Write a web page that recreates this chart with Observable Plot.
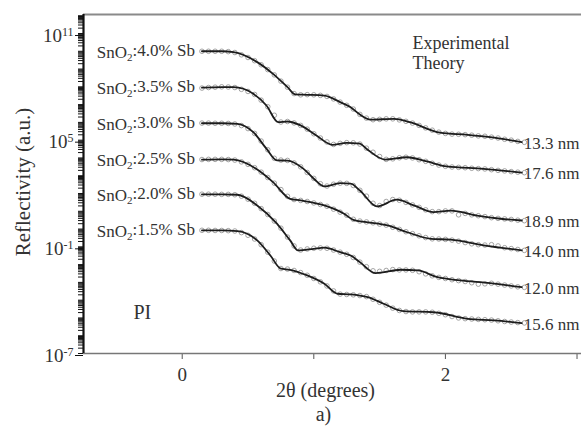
<!DOCTYPE html>
<html><head><meta charset="utf-8">
<script src="https://cdn.jsdelivr.net/npm/d3@7"></script>
<script src="https://cdn.jsdelivr.net/npm/@observablehq/plot@0.6"></script>
<style>html,body{margin:0;padding:0;background:#fff;}</style>
</head><body><div id="chart"></div>
<script>
// ---- labels ----
const samples = ["SnO2:4.0% Sb", "SnO2:3.5% Sb", "SnO2:3.0% Sb", "SnO2:2.5% Sb", "SnO2:2.0% Sb", "SnO2:1.5% Sb"];
const thickness = ["13.3 nm", "17.6 nm", "18.9 nm", "14.0 nm", "12.0 nm", "15.6 nm"];

// ---- axes ----
const xDomain = [-0.75, 3.034];
const yDomain = [1e-7, 1.17e12];
const xTicks = [0, 1, 2, 3];
const xTickLabels = ["0", "", "2", ""];
const yTicks = [1e-7, 1e-1, 1e5, 1e11];

// ---- experimental data: 2θ (deg) and log10(reflectivity) ----
const expX = [0.15,0.2,0.25,0.3,0.35,0.4,0.45,0.5,0.55,0.6,0.65,0.7,0.75,0.8,0.85,0.9,0.95,1.0,1.05,1.1,1.15,1.2,1.25,1.3,1.35,1.4,1.45,1.5,1.55,1.6,1.65,1.7,1.75,1.8,1.85,1.9,1.95,2.0,2.05,2.1,2.15,2.2,2.25,2.3,2.35,2.4,2.45,2.5,2.55,2.6];
const exp40 = [10.0,10.0,10.0,10.0,9.98,9.93,9.80,9.65,9.47,9.24,8.97,8.67,8.32,7.98,7.62,7.55,7.56,7.55,7.52,7.46,7.32,7.14,6.96,6.75,6.45,6.24,6.15,6.17,6.20,6.20,6.14,6.06,5.96,5.83,5.69,5.56,5.45,5.38,5.34,5.33,5.31,5.28,5.24,5.22,5.17,5.12,5.05,5.00,4.93,4.88];
const exp35 = [7.93,7.96,7.98,8.00,7.99,7.96,7.86,7.74,7.57,7.25,6.88,6.40,6.02,6.05,5.97,5.83,5.62,5.36,5.12,4.90,4.76,4.82,4.86,4.85,4.78,4.55,4.32,4.08,3.92,3.95,4.01,4.04,4.00,3.90,3.81,3.70,3.60,3.53,3.49,3.47,3.45,3.42,3.40,3.38,3.34,3.30,3.27,3.23,3.20,3.17];
const exp30 = [5.96,5.96,5.95,5.95,5.94,5.91,5.82,5.65,5.38,4.95,4.46,3.98,3.88,3.86,3.72,3.50,3.18,2.85,2.55,2.42,2.52,2.58,2.57,2.45,2.18,1.85,1.45,1.32,1.55,1.66,1.62,1.50,1.36,1.22,1.08,0.98,0.98,1.02,1.02,0.80,0.88,0.80,0.75,0.70,0.64,0.60,0.57,0.54,0.50,0.47];
const exp25 = [3.91,3.92,3.92,3.92,3.91,3.88,3.78,3.64,3.45,3.20,2.90,2.58,2.22,1.84,1.66,1.61,1.55,1.47,1.38,1.28,1.12,0.95,0.78,0.55,0.45,0.40,0.35,0.28,0.22,0.10,-0.02,-0.15,-0.26,-0.38,-0.48,-0.55,-0.56,-0.58,-0.62,-0.68,-0.76,-0.83,-0.88,-0.90,-0.88,-0.95,-1.05,-1.10,-1.15,-1.20];
const exp20 = [1.96,1.96,1.96,1.95,1.95,1.93,1.85,1.68,1.45,1.15,0.82,0.45,0.05,-0.45,-0.95,-1.18,-1.12,-1.08,-1.06,-1.08,-1.18,-1.30,-1.42,-1.60,-1.86,-2.12,-2.35,-2.38,-2.33,-2.28,-2.30,-2.30,-2.32,-2.40,-2.52,-2.63,-2.72,-2.78,-2.85,-2.90,-2.95,-3.02,-3.10,-3.08,-3.05,-3.10,-3.15,-3.20,-3.25,-3.28];
const exp15 = [-0.07,-0.07,-0.08,-0.08,-0.09,-0.11,-0.20,-0.35,-0.56,-0.88,-1.30,-1.80,-2.22,-2.25,-2.33,-2.45,-2.60,-2.78,-2.97,-3.20,-3.48,-3.66,-3.68,-3.70,-3.74,-3.80,-3.95,-4.12,-4.28,-4.45,-4.58,-4.64,-4.66,-4.66,-4.66,-4.68,-4.74,-4.82,-4.92,-5.00,-5.04,-5.06,-5.08,-5.10,-5.12,-5.16,-5.20,-5.23,-5.26,-5.28];

// ---- theory fits: 2θ (deg) and log10(reflectivity) ----
const th40x = [0.15,0.30,0.39,0.57,0.69,0.80,0.86,0.95,1.08,1.20,1.28,1.35,1.43,1.61,1.73,1.96,2.17,2.34,2.58];
const th40y = [10.0,10.0,9.95,9.39,8.73,7.98,7.57,7.55,7.51,7.14,6.85,6.44,6.15,6.20,6.01,5.42,5.30,5.17,4.89];
const th35x = [0.15,0.30,0.39,0.54,0.64,0.73,0.80,0.90,1.02,1.14,1.25,1.35,1.40,1.54,1.71,1.86,2.01,2.29,2.58];
const th35y = [7.95,7.98,7.98,7.61,6.95,6.01,6.05,5.83,5.26,4.74,4.85,4.80,4.52,3.91,4.04,3.80,3.52,3.39,3.17];
const th30x = [0.15,0.30,0.42,0.54,0.64,0.72,0.80,0.92,1.00,1.08,1.20,1.28,1.35,1.48,1.63,1.76,1.91,2.04,2.24,2.42,2.58];
const th30y = [5.95,5.95,5.92,5.45,4.52,3.86,3.85,3.40,2.83,2.40,2.58,2.55,2.17,1.27,1.65,1.33,0.95,1.04,0.76,0.58,0.48];
const th25x = [0.15,0.30,0.39,0.57,0.69,0.82,0.90,1.08,1.23,1.30,1.40,1.56,1.71,1.89,2.04,2.29,2.58];
const th25y = [3.90,3.92,3.90,3.35,2.64,1.70,1.61,1.33,0.86,0.52,0.39,0.20,-0.18,-0.55,-0.60,-0.92,-1.20];
const th20x = [0.15,0.30,0.42,0.57,0.72,0.82,0.88,1.00,1.08,1.20,1.28,1.35,1.47,1.66,1.79,1.94,2.11,2.34,2.58];
const th20y = [1.95,1.95,1.93,1.33,0.30,-0.64,-1.20,-1.11,-1.05,-1.30,-1.49,-1.86,-2.48,-2.29,-2.33,-2.71,-2.89,-3.04,-3.27];
const th15x = [0.15,0.30,0.42,0.57,0.67,0.75,0.82,0.95,1.08,1.18,1.28,1.35,1.41,1.53,1.68,1.91,2.17,2.37,2.58];
const th15y = [-0.08,-0.08,-0.12,-0.64,-1.49,-2.23,-2.29,-2.61,-3.08,-3.64,-3.68,-3.74,-3.83,-4.20,-4.62,-4.68,-5.05,-5.14,-5.29];

// ---- build tables ----
const expSets = [exp40, exp35, exp30, exp25, exp20, exp15];
const thSets = [[th40x, th40y], [th35x, th35y], [th30x, th30y], [th25x, th25y], [th20x, th20y], [th15x, th15y]];
const experimental = [];
const theory = [];
const startLabels = [];
const endLabels = [];
samples.forEach((s, i) => {
  expX.forEach((x, j) => experimental.push({sample: s, x, R: Math.pow(10, expSets[i][j])}));
  const [tx, ty] = thSets[i];
  tx.forEach((x, j) => theory.push({sample: s, x, R: Math.pow(10, ty[j])}));
  startLabels.push({text: s, x: tx[0], R: Math.pow(10, ty[0])});
  const n = tx.length - 1;
  endLabels.push({text: thickness[i], x: tx[n], R: Math.pow(10, ty[n])});
});

// minor log ticks (1..9 per decade)
const yMinor = [];
for (let e = -7; e <= 12; e++) for (let m = 1; m <= 9; m++) {
  const v = m * Math.pow(10, e);
  if (v >= yDomain[0] && v <= yDomain[1]) yMinor.push(v);
}

const txt = "#333";
const chart = Plot.plot({
  width: 581, height: 429,
  marginLeft: 83, marginRight: 0, marginTop: 14, marginBottom: 76,
  style: {background: "#fff", fontFamily: "'Liberation Serif', 'Times New Roman', serif", color: txt, overflow: "visible"},
  x: {domain: xDomain},
  y: {type: "log", domain: yDomain},
  marks: [
    Plot.axisY({ticks: yMinor, tickSize: 5, tickFormat: () => "", stroke: "#111", label: null}),
    Plot.axisY({ticks: yTicks, tickSize: 8, tickPadding: 2, dy: 2, fontSize: 19, fill: txt, stroke: "#111", label: null,
      tickFormat: d => "10^" + Math.round(Math.log10(d))}),
    Plot.axisX({ticks: xTicks, tickSize: 6, tickPadding: 8, fontSize: 19, fill: txt, stroke: "#555", label: null,
      tickFormat: d => xTickLabels[xTicks.indexOf(d)]}),
    Plot.ruleY([yDomain[1]], {stroke: "#8a8a8a", strokeWidth: 2}),
    Plot.ruleY([yDomain[0]], {stroke: "#777", strokeWidth: 1.6}),
    Plot.ruleX([xDomain[0]], {stroke: "#111", strokeWidth: 2.2}),
    Plot.dot(experimental, {x: "x", y: "R", r: 2.3, stroke: "#9a9a9a", strokeWidth: 0.9, fill: "none"}),
    Plot.line(theory, {x: "x", y: "R", z: "sample", curve: "monotone-x", stroke: "#1c1c1c", strokeWidth: 1.8}),
    Plot.text(startLabels, {x: "x", y: "R", text: "text", textAnchor: "end", dx: -7, dy: 1, fontSize: 17, fill: txt}),
    Plot.text(endLabels, {x: "x", y: "R", text: "text", textAnchor: "start", dx: 2, dy: 1, fontSize: 17, fill: txt}),
    Plot.text(["Experimental"], {frameAnchor: "top-left", dx: 329, dy: 34, lineAnchor: "bottom", textAnchor: "start", fontSize: 18, fill: txt}),
    Plot.text(["Theory"], {frameAnchor: "top-left", dx: 329, dy: 54, lineAnchor: "bottom", textAnchor: "start", fontSize: 18, fill: txt}),
    Plot.text(["PI"], {frameAnchor: "top-left", dx: 50, dy: 304, lineAnchor: "bottom", textAnchor: "start", fontSize: 20, fill: txt}),
    Plot.text(["Reflectivity (a.u.)"], {frameAnchor: "left", dx: -60, dy: -2, rotate: -90, textAnchor: "middle", fontSize: 21, fill: txt}),
    Plot.text(["2θ (degrees)"], {frameAnchor: "bottom", dx: -7, dy: 43, lineAnchor: "bottom", fontSize: 20, fill: txt}),
    Plot.text(["a)"], {frameAnchor: "bottom", dx: -9, dy: 67, lineAnchor: "bottom", fontSize: 20, fill: txt})
  ]
});

// rich text: superscripts / subscripts
const NS = "http://www.w3.org/2000/svg";
function span(parent, str, attrs) {
  const t = document.createElementNS(NS, "tspan");
  t.textContent = str;
  for (const k in attrs) t.setAttribute(k, attrs[k]);
  parent.appendChild(t);
}
chart.querySelectorAll("text").forEach(t => {
  const s = t.textContent;
  let m = s.match(/^10\^(-?\d+)$/);
  if (m) {
    t.textContent = "";
    span(t, "10", {});
    span(t, m[1], {dy: "-0.5em", "font-size": "0.63em"});
    return;
  }
  m = s.match(/^SnO2(.*)$/);
  if (m) {
    t.textContent = "";
    span(t, "SnO", {});
    span(t, "2", {dy: "0.3em", "font-size": "0.65em"});
    span(t, m[1], {dy: "-0.3em"});
  }
});
document.getElementById("chart").appendChild(chart);
</script>
</body></html>
